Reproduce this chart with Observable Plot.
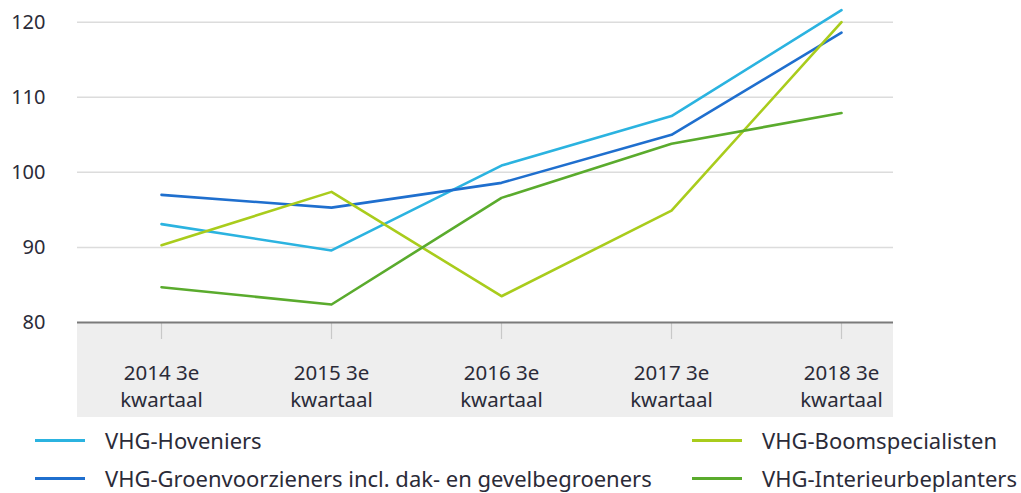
<!DOCTYPE html>
<html>
<head>
<meta charset="utf-8">
<script src="https://cdn.jsdelivr.net/npm/d3@7"></script>
<script src="https://cdn.jsdelivr.net/npm/@observablehq/plot@0.6"></script>
<style>
  html, body { margin: 0; padding: 0; background: #fff; }
  #wrap { position: relative; width: 1021px; height: 493px; font-family: "Noto Sans", sans-serif; color: #2b2b38; }
  #chart { position: absolute; left: 0; top: 0; }
  #chart svg { display: block; }
  .lg { position: absolute; display: flex; align-items: center; font-size: 22px; white-space: nowrap; }
  .sw { width: 50px; height: 3px; margin-right: 20px; }
</style>
</head>
<body>
<div id="wrap">
  <div id="chart"></div>
  <div id="legend"></div>
</div>
<script>
const categories = ["2014 3e kwartaal", "2015 3e kwartaal", "2016 3e kwartaal", "2017 3e kwartaal", "2018 3e kwartaal"];
const seriesNames = [
  "VHG-Hoveniers",
  "VHG-Groenvoorzieners incl. dak- en gevelbegroeners",
  "VHG-Boomspecialisten",
  "VHG-Interieurbeplanters"
];
const hoveniers = [93.1, 89.6, 100.9, 107.5, 121.6];
const groenvoorzieners = [97.0, 95.3, 98.6, 105.0, 118.6];
const boomspecialisten = [90.3, 97.4, 83.5, 94.9, 120.0];
const interieurbeplanters = [84.7, 82.4, 96.6, 103.8, 107.9];
const colors = ["#2bb3e0", "#1f6fce", "#a9cc1c", "#5aab2d"];
const yTicks = [80, 90, 100, 110, 120];

const seriesValues = [hoveniers, groenvoorzieners, boomspecialisten, interieurbeplanters];
const data = seriesNames.flatMap((s, i) => categories.map((c, j) => ({series: s, cat: c, value: seriesValues[i][j]})));

const band = (index, scales, values, dimensions) => {
  const y0 = scales.y(yTicks[0]);
  return d3.create("svg:rect")
    .attr("x", dimensions.marginLeft)
    .attr("y", y0)
    .attr("width", dimensions.width - dimensions.marginLeft - dimensions.marginRight)
    .attr("height", dimensions.height - 8 - y0)
    .attr("fill", "#eeeeee")
    .node();
};

const chart = Plot.plot({
  width: 1021,
  height: 425,
  marginTop: 21.7,
  marginBottom: 103,
  marginLeft: 77,
  marginRight: 128,
  style: {fontFamily: "'Noto Sans', sans-serif", fontSize: "20px", color: "#2b2b38", background: "transparent"},
  x: {type: "point", domain: categories, padding: 0, insetLeft: 83, insetRight: 51},
  y: {domain: [80, 120]},
  color: {domain: seriesNames, range: colors},
  marks: [
    band,
    Plot.ruleY(yTicks.slice(1), {stroke: "#dcdcdc", strokeWidth: 1.5}),
    Plot.axisY({ticks: yTicks, tickSize: 0, tickPadding: 32, label: null, fontSize: 20}),
    Plot.axisX({ticks: categories, tickSize: 17, stroke: "#c8c8c8", strokeWidth: 1.2, text: null, label: null}),
    Plot.axisX({ticks: categories, tickSize: 0, tickPadding: 39, label: null, fontSize: 20.5, lineHeight: 1.3,
      tickFormat: d => d.replace(" kwartaal", "\nkwartaal")}),
    Plot.ruleY([80], {stroke: "#7a7a7a", strokeWidth: 2}),
    Plot.line(data, {x: "cat", y: "value", z: "series", stroke: "series", strokeWidth: 2.6})
  ]
});
document.getElementById("chart").appendChild(chart);

const legendPos = [
  {x: 35, y: 440}, {x: 35, y: 478}, {x: 692, y: 440}, {x: 692, y: 478}
];
const lg = document.getElementById("legend");
seriesNames.forEach((s, i) => {
  const d = document.createElement("div");
  d.className = "lg";
  d.style.left = legendPos[i].x + "px";
  d.style.top = (legendPos[i].y - 14) + "px";
  d.style.height = "28px";
  d.innerHTML = `<span class="sw" style="background:${colors[i]}"></span><span>${s}</span>`;
  lg.appendChild(d);
});
</script>
</body>
</html>
